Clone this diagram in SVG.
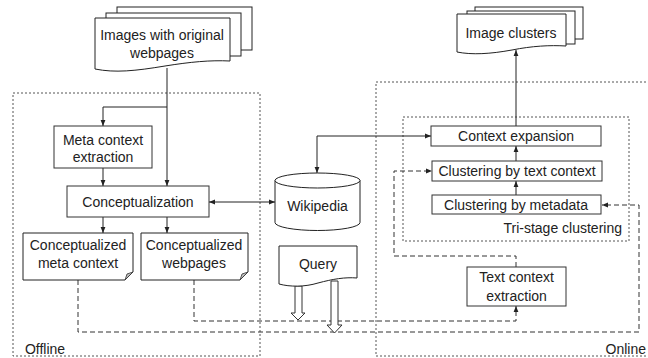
<svg xmlns="http://www.w3.org/2000/svg" width="648" height="358" viewBox="0 0 648 358">
<defs>
<marker id="ah" viewBox="0 0 8 8" refX="8" refY="4" markerWidth="6" markerHeight="6" orient="auto-start-reverse" markerUnits="userSpaceOnUse">
<path d="M0,0.8 L8,4 L0,7.2 Z" fill="#222"/>
</marker>
<style>
.t{font-family:"Liberation Sans",Arial,sans-serif;font-size:14px;fill:#222;text-anchor:middle;dominant-baseline:central}
.box{fill:#fff;stroke:#333;stroke-width:1}
.doc{fill:#fff;stroke:#222;stroke-width:1}
.region{fill:none;stroke:#555;stroke-width:1;stroke-dasharray:2,2}
.ln{fill:none;stroke:#222;stroke-width:1}
.dash{fill:none;stroke:#333;stroke-width:1;stroke-dasharray:5,3}
.blk{fill:#fff;stroke:#333;stroke-width:1}
.fold{fill:#bbb;stroke:#333;stroke-width:0.8}
</style>
</defs>
<rect width="648" height="358" fill="#fff"/>

<g id="offline-region">
<rect class="region" x="13" y="93" width="247" height="263"/>
<text class="t" x="45" y="349">Offline</text>
</g>
<g id="online-region">
<rect class="region" x="376" y="82" width="276" height="274"/>
<text class="t" x="646" y="349" style="text-anchor:end">Online</text>
</g>
<g id="tristage-region">
<rect class="region" x="403" y="117" width="226" height="124"/>
<text class="t" x="622" y="228" style="text-anchor:end">Tri-stage clustering</text>
</g>

<g id="connectors">
<path class="ln" d="M167,68 V186" marker-end="url(#ah)"/>
<path class="ln" d="M167,107 H103 V126" marker-end="url(#ah)"/>
<path class="ln" d="M103,168 V186" marker-end="url(#ah)"/>
<path class="ln" d="M103,217 V233" marker-end="url(#ah)"/>
<path class="ln" d="M167,217 V233" marker-end="url(#ah)"/>
<path class="ln" d="M209,202 H275" marker-start="url(#ah)" marker-end="url(#ah)"/>
<path class="ln" d="M317,173 V136 H431" marker-start="url(#ah)" marker-end="url(#ah)"/>
<path class="ln" d="M516,126 V50" marker-end="url(#ah)"/>
<path class="ln" d="M516,161 V146" marker-end="url(#ah)"/>
<path class="ln" d="M516,195 V181" marker-end="url(#ah)"/>
<path class="dash" d="M78,280 V332 H639 V205 H602" marker-end="url(#ah)"/>
<path class="dash" d="M194,280 V321 H516 V306" marker-end="url(#ah)"/>
<path class="dash" d="M516,267 V256 H394 V171 H432" marker-end="url(#ah)"/>
<path class="blk" d="M295,286 V313 H291 L298,320 L305,313 H302 V286 Z"/>
<path class="blk" d="M331,281 V325 H327 L334.5,333 L342,325 H338 V281 Z"/>
</g>

<g id="images-with-original-webpages">
<rect class="doc" x="117" y="7" width="135" height="43"/>
<rect class="doc" x="106" y="13" width="135" height="43"/>
<path class="doc" d="M95,18 H230 V61 C210,60 190,62 165,66 C135,71 115,73 95,69 Z"/>
<text class="t" x="162" y="35">Images with original</text>
<text class="t" x="162" y="53">webpages</text>
</g>

<g id="meta-context-extraction">
<rect class="box" x="54" y="126" width="98" height="42"/>
<text class="t" x="103" y="140">Meta context</text>
<text class="t" x="103" y="157">extraction</text>
</g>

<g id="conceptualization">
<rect class="box" x="67" y="186" width="142" height="31"/>
<text class="t" x="138" y="202">Conceptualization</text>
</g>

<g id="conceptualized-meta-context">
<path class="doc" d="M23,233 H133 V272 L125,280 H23 Z"/>
<path class="fold" d="M125,280 L127,274 L133,272 Z"/>
<text class="t" x="78" y="245">Conceptualized</text>
<text class="t" x="78" y="263">meta context</text>
</g>

<g id="conceptualized-webpages">
<path class="doc" d="M141,233 H248 V272 L240,280 H141 Z"/>
<path class="fold" d="M240,280 L242,274 L248,272 Z"/>
<text class="t" x="194" y="245">Conceptualized</text>
<text class="t" x="194" y="263">webpages</text>
</g>

<g id="wikipedia">
<path class="doc" d="M275,180.5 V222.5 A42.5,8 0 0 0 360,222.5 V180.5"/>
<ellipse class="doc" cx="317.5" cy="180.5" rx="42.5" ry="7.5"/>
<text class="t" x="317.5" y="206">Wikipedia</text>
</g>

<g id="query">
<path class="doc" d="M279,246 H357 V278 C345,277 333,279 318,283 C305,287 290,287 279,284 Z"/>
<text class="t" x="318" y="264">Query</text>
</g>

<g id="image-clusters">
<rect class="doc" x="475" y="7" width="108" height="32"/>
<rect class="doc" x="467" y="11" width="108" height="33"/>
<path class="doc" d="M457,14 H566 V46 C550,45 532,46 512,50 C490,54 472,55 457,52 Z"/>
<text class="t" x="511" y="33">Image clusters</text>
</g>

<g id="context-expansion">
<rect class="box" x="431" y="126" width="170" height="20"/>
<text class="t" x="516" y="136">Context expansion</text>
</g>

<g id="clustering-by-text-context">
<rect class="box" x="432" y="161" width="170" height="20"/>
<text class="t" x="517" y="171">Clustering by text context</text>
</g>

<g id="clustering-by-metadata">
<rect class="box" x="432" y="195" width="169" height="19"/>
<text class="t" x="516" y="204.5">Clustering by metadata</text>
</g>

<g id="text-context-extraction">
<rect class="box" x="467" y="267" width="99" height="39"/>
<text class="t" x="516.5" y="277">Text context</text>
<text class="t" x="516.5" y="296">extraction</text>
</g>
</svg>
